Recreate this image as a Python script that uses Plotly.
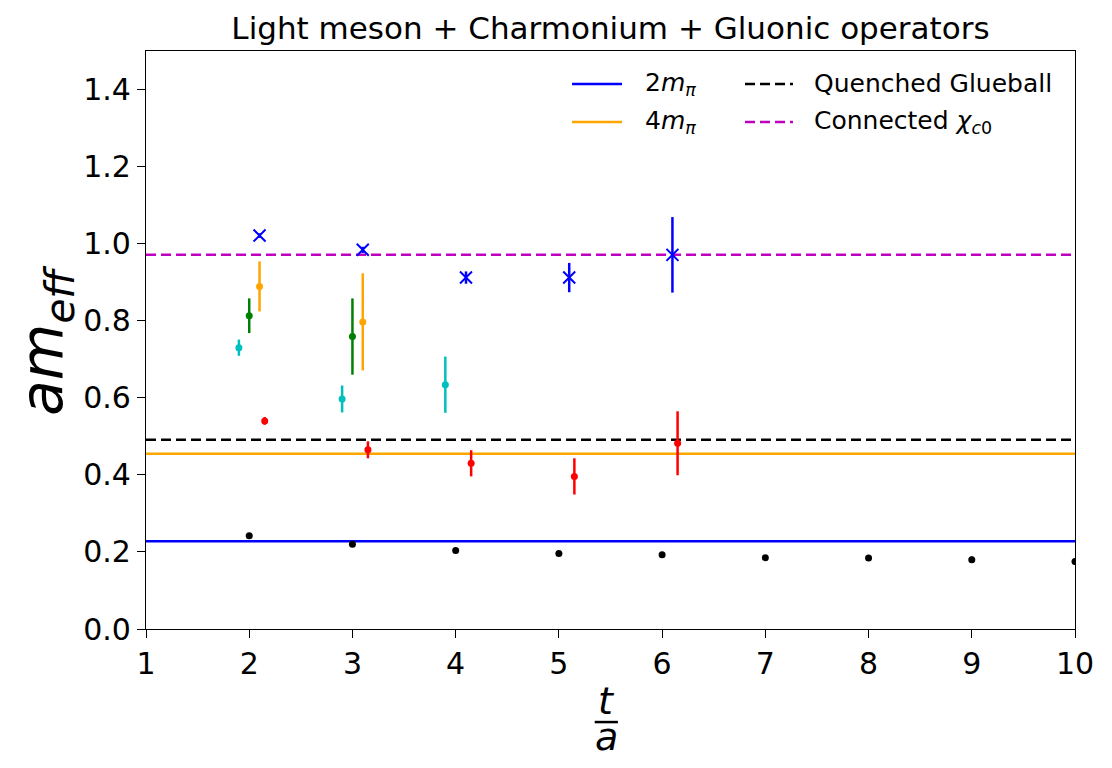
import plotly.graph_objects as go

# ---- data ----
t_black = [2, 3, 4, 5, 6, 7, 8, 9, 10]
m_black = [0.242, 0.220, 0.204, 0.196, 0.193, 0.185, 0.184, 0.180, 0.175]
e_black = [0.004, 0.004, 0.004, 0.004, 0.004, 0.005, 0.005, 0.008, 0.008]

t_cyan = [1.9, 2.9, 3.9]
m_cyan = [0.730, 0.597, 0.634]
e_cyan = [0.021, 0.035, 0.073]

t_green = [2.0, 3.0]
m_green = [0.813, 0.759]
e_green = [0.045, 0.099]

t_orange = [2.1, 3.1]
m_orange = [0.889, 0.797]
e_orange = [0.065, 0.126]

t_blue = [2.1, 3.1, 4.1, 5.1, 6.1]
m_blue = [1.021, 0.984, 0.912, 0.912, 0.971]
e_blue = [0.006, 0.008, 0.016, 0.038, 0.098]

t_red = [2.15, 3.15, 4.15, 5.15, 6.15]
m_red = [0.540, 0.465, 0.430, 0.396, 0.482]
e_red = [0.010, 0.022, 0.034, 0.047, 0.083]

two_mpi = 0.228
four_mpi = 0.455
glueball = 0.491
chi_c0 = 0.971

x_range = [1, 10]
y_range = [0, 1.5]
x_ticks = [1, 2, 3, 4, 5, 6, 7, 8, 9, 10]
y_ticks = [0.0, 0.2, 0.4, 0.6, 0.8, 1.0, 1.2, 1.4]

legend_names = ["2<i>m</i><sub><i>π</i></sub>", "4<i>m</i><sub><i>π</i></sub>",
                "Quenched Glueball", "Connected <i>χ</i><sub><i>c</i>0</sub>"]

FONT = "DejaVu Sans"
BLUE, ORANGE, BLACK, MAGENTA = "#0000ff", "#ffa500", "#000000", "#bf00bf"
DASH = "10px,5px"

fig = go.Figure()

# reference lines
def hline(y, color, dash, name):
    fig.add_trace(go.Scatter(x=x_range, y=[y, y], mode="lines",
                             line=dict(color=color, width=2.5, dash=dash),
                             name=name, showlegend=False))

hline(two_mpi, BLUE, "solid", legend_names[0])
hline(four_mpi, ORANGE, "solid", legend_names[1])
hline(glueball, BLACK, DASH, legend_names[2])
hline(chi_c0, MAGENTA, DASH, legend_names[3])

def pts(x, y, e, color, symbol="circle", size=7, lw=0):
    fig.add_trace(go.Scatter(
        x=x, y=y, mode="markers", showlegend=False,
        marker=dict(color=color, size=size, symbol=symbol,
                    line=dict(color=color, width=lw)),
        error_y=dict(type="data", array=e, visible=True, color=color,
                     thickness=2.5, width=0)))

pts(t_black, m_black, e_black, BLACK)
pts(t_cyan, m_cyan, e_cyan, "#00bfbf")
pts(t_green, m_green, e_green, "#008000")
pts(t_orange, m_orange, e_orange, ORANGE)
pts(t_red, m_red, e_red, "#ff0000")
pts(t_blue, m_blue, e_blue, BLUE, symbol="x-thin", size=12, lw=2)

axis_common = dict(showgrid=False, zeroline=False, showline=True, linecolor="black",
                   linewidth=1.3, mirror=True, ticks="outside", ticklen=8, tickwidth=1.3,
                   tickcolor="black", tickfont=dict(family=FONT, size=30, color="black"))

fig.update_xaxes(range=x_range, tickvals=x_ticks, ticktext=[str(v) for v in x_ticks],
                 **axis_common)
fig.update_yaxes(range=y_range, tickvals=y_ticks, ticktext=[f"{v:.1f}" for v in y_ticks],
                 **axis_common)

fig.update_layout(
    width=1112, height=768,
    margin=dict(l=146, r=37, t=51, b=139),
    plot_bgcolor="white", paper_bgcolor="white",
    showlegend=False,
    title=dict(text="Light meson + Charmonium + Gluonic operators",
               font=dict(family=FONT, size=31, color="black"),
               xref="paper", x=0.5, xanchor="center", y=0.9635, yanchor="middle"),
)

# legend (two columns, no frame)
leg_rows = [0.943, 0.877]
leg_items = [
    (0.4586, 0.5124, 0.535, leg_rows[0], BLUE, "solid", legend_names[0]),
    (0.4586, 0.5124, 0.535, leg_rows[1], ORANGE, "solid", legend_names[1]),
    (0.6448, 0.6964, 0.7169, leg_rows[0], BLACK, DASH, legend_names[2]),
    (0.6448, 0.6964, 0.7169, leg_rows[1], MAGENTA, DASH, legend_names[3]),
]
for x0, x1, xt, yy, col, dash, name in leg_items:
    fig.add_shape(type="line", xref="paper", yref="paper", x0=x0, x1=x1, y0=yy, y1=yy,
                  line=dict(color=col, width=2.5, dash=dash))
    fig.add_annotation(text=name, xref="paper", yref="paper", x=xt, y=yy,
                       xanchor="left", yanchor="middle", showarrow=False,
                       font=dict(family=FONT, size=25, color="black"))

# axis labels
fig.add_annotation(text="<i>am</i><sub><i>eff</i></sub>", xref="paper", yref="paper",
                   x=-0.108, y=0.5, textangle=-90, showarrow=False,
                   font=dict(family=FONT, size=58, color="black"),
                   xanchor="center", yanchor="middle")
fig.add_annotation(text="<i>t</i>", xref="paper", yref="paper",
                   x=0.4957, y=-0.124, showarrow=False, height=30, valign="middle",
                   font=dict(family=FONT, size=38, color="black"),
                   xanchor="center", yanchor="middle")
fig.add_annotation(text="<i>a</i>", xref="paper", yref="paper",
                   x=0.4957, y=-0.186, showarrow=False, height=30, valign="middle",
                   font=dict(family=FONT, size=38, color="black"),
                   xanchor="center", yanchor="middle")
fig.add_shape(type="line", xref="paper", yref="paper",
              x0=0.483, x1=0.508, y0=-0.161, y1=-0.161,
              line=dict(color="black", width=2.5))

fig.write_html("out.html")
